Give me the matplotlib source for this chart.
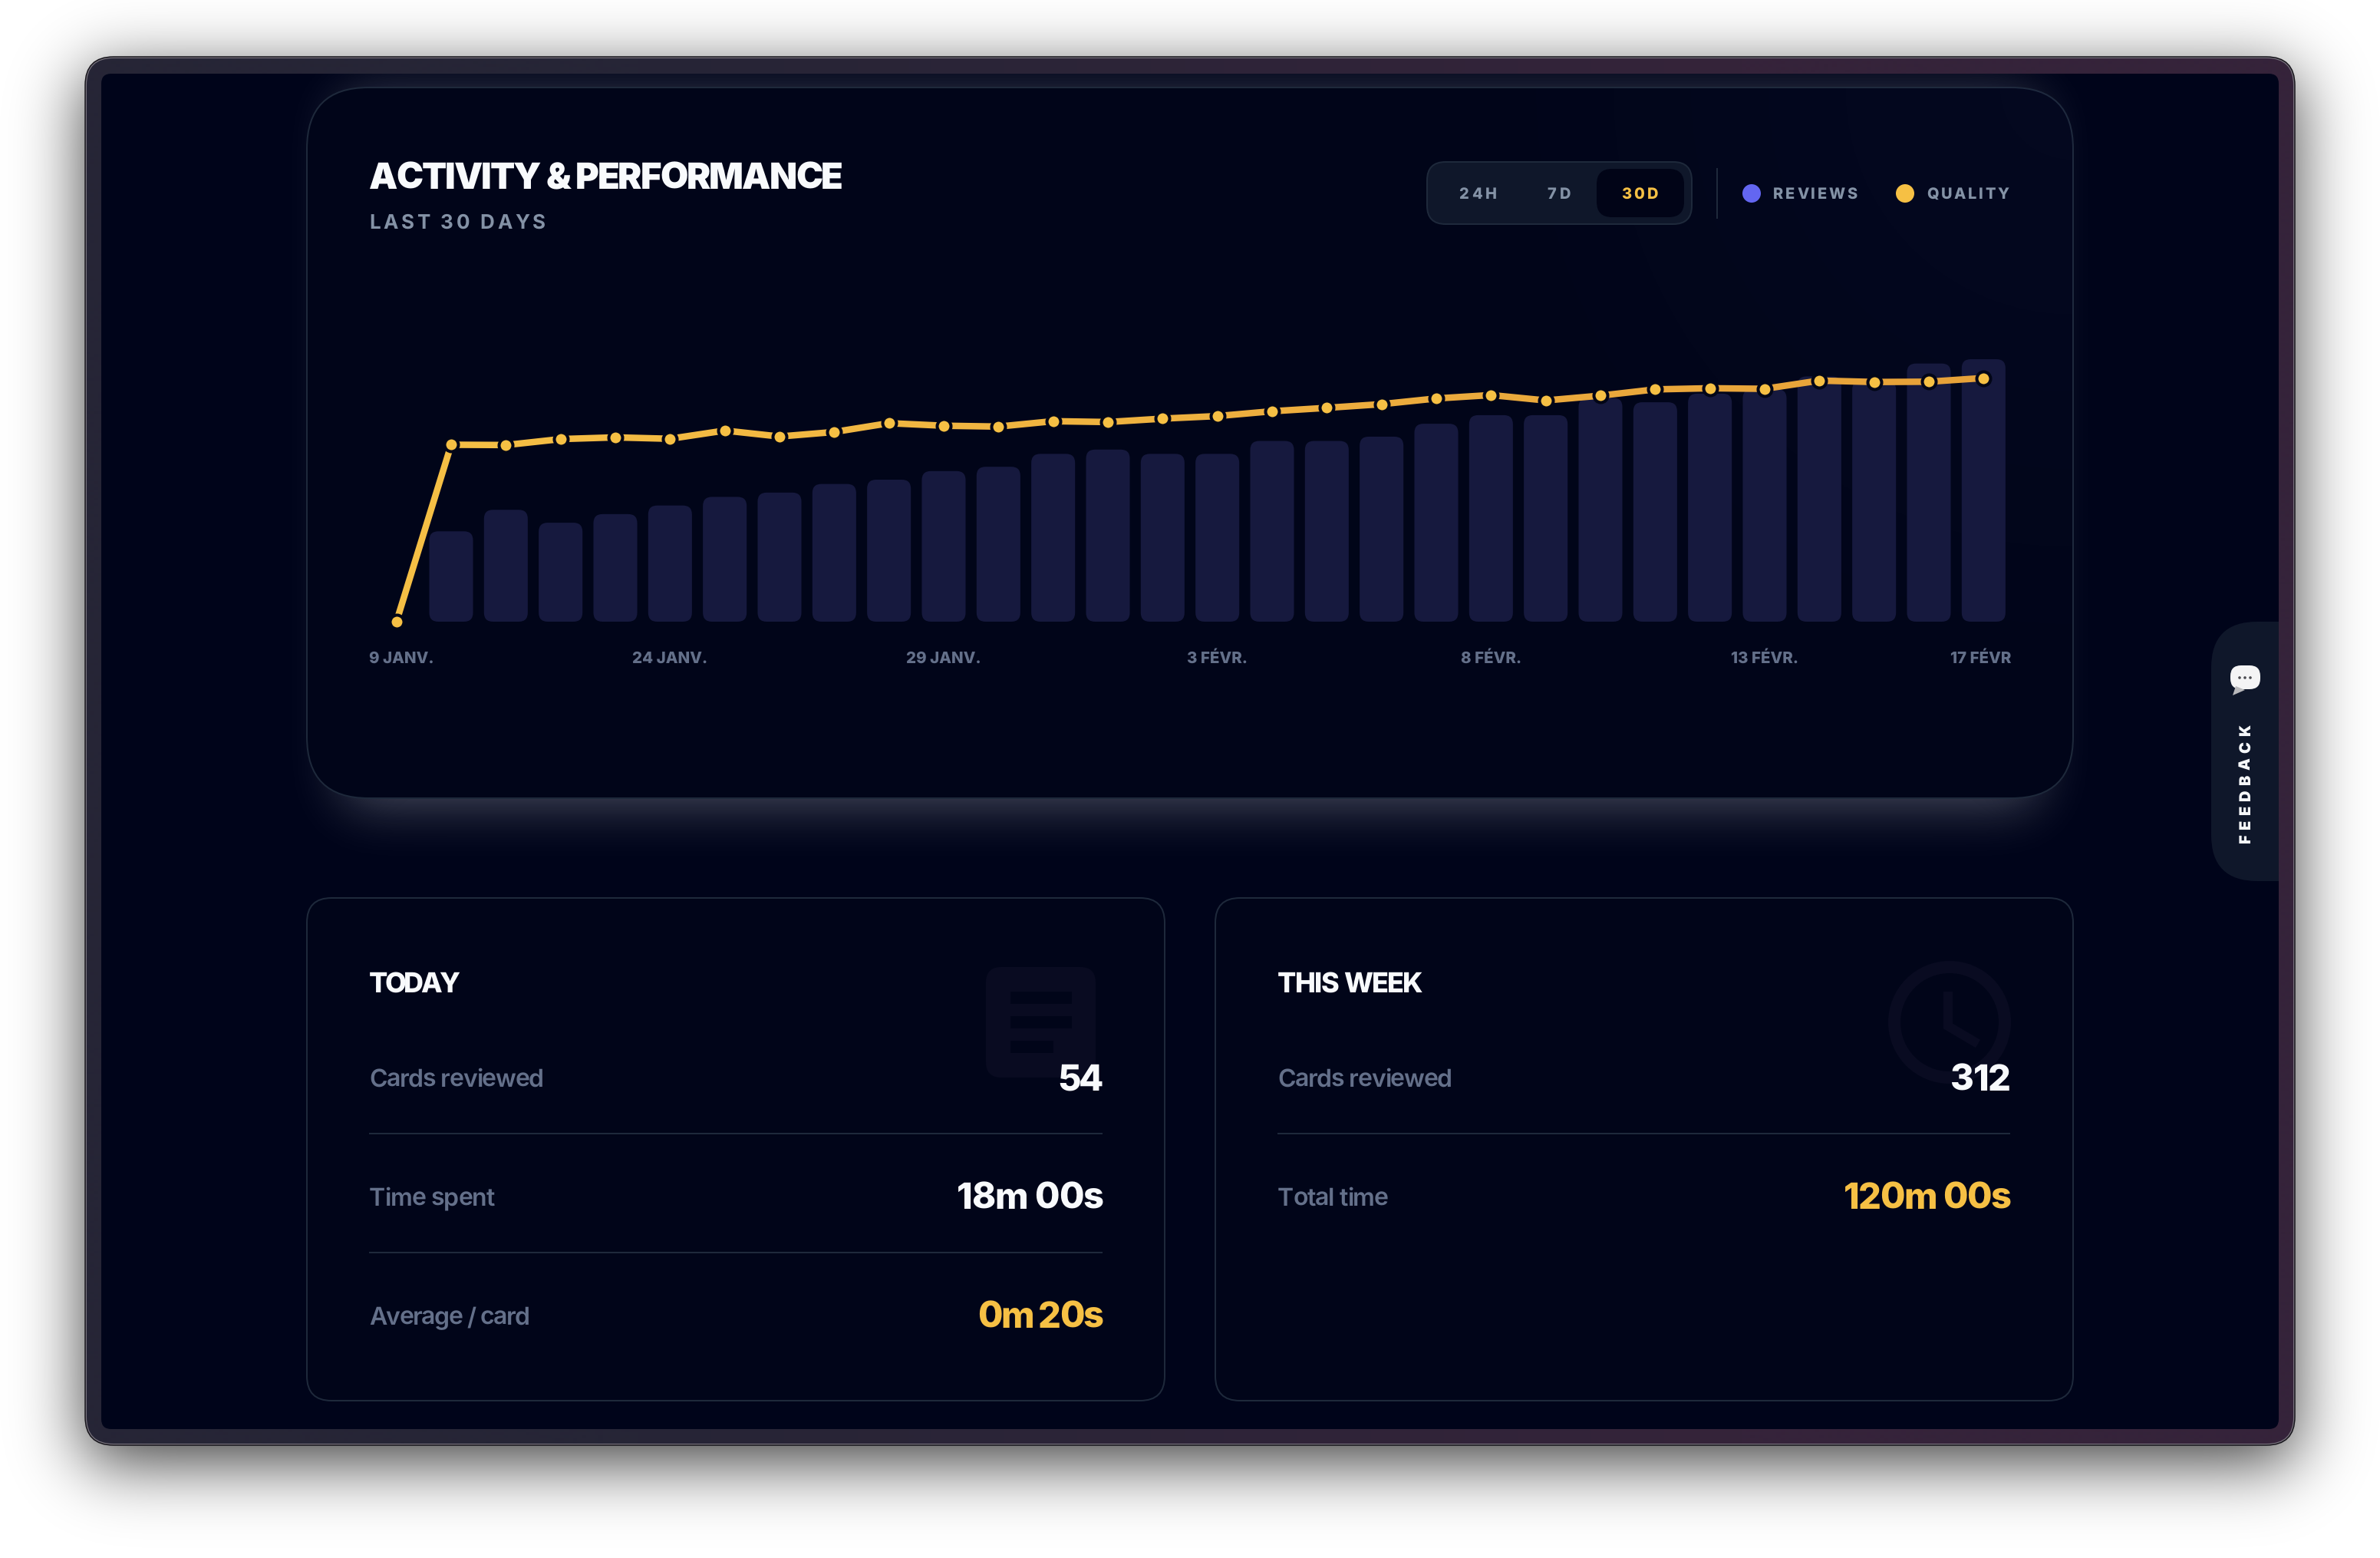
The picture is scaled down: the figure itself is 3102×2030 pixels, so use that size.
#!/usr/bin/env python3
"""Activity & performance dashboard card, redrawn with matplotlib."""

import math

import matplotlib
matplotlib.use("Agg")
import matplotlib.pyplot as plt
import numpy as np
from matplotlib.collections import LineCollection
from matplotlib.colors import to_rgb
from matplotlib.patches import Circle, FancyBboxPatch, Polygon, Rectangle
from matplotlib.text import Text
from matplotlib.transforms import Bbox, IdentityTransform, ScaledTranslation

# Daily data, one value per day of the 30 day window
reviews = [0, 21, 26, 23, 25, 27, 29, 30, 32, 33, 35, 36, 39, 40, 39,
           39, 42, 42, 43, 46, 48, 48, 52, 51, 53, 54, 57, 56, 60, 61]
quality = [0.0, 62.3, 62.2, 64.3, 64.9, 64.4, 67.3, 65.2, 66.8, 69.9,
           69.0, 68.7, 70.6, 70.3, 71.5, 72.4, 74.1, 75.3, 76.6, 78.6,
           79.8, 77.9, 79.6, 81.8, 82.2, 82.0, 84.9, 84.4, 84.5, 85.8]
tick_days = [0, 5, 10, 15, 20, 25, 29]
tick_labels = ["9 JANV.", "24 JANV.", "29 JANV.", "3 FÉVR.", "8 FÉVR.", "13 FÉVR.", "17 FÉVR."]
ranges = ["24H", "7D", "30D"]
today_rows = [("Cards reviewed", "54"), ("Time spent", "18m 00s"), ("Average / card", "0m 20s")]
week_rows = [("Cards reviewed", "312"), ("Total time", "120m 00s")]

W, H = 3102, 2030
PT = 0.72  # the figure is 100 dpi, so one pixel is 0.72 points

SCREEN = "#00041a"
CARD = "#010519"
BORDER = "#1e293b"
SLATE = "#8492a6"
MUTED = "#64708a"
AMBER = "#f6c044"
INDIGO = "#6366f1"
BAR = "#16193e"
GHOST = "#090b21"

plt.rcParams["font.family"] = ["Inter", "DejaVu Sans"]
plt.rcParams["text.hinting"] = "no_hinting"


class TrackedText(Text):
    """Text with letter spacing; fit_width sets the spacing to reach a width in pixels."""

    def __init__(self, x, y, text, fit_width=None, **kwargs):
        super().__init__(x, y, text, **kwargs)
        self.fit_width = fit_width

    def draw(self, renderer):
        full, pos, trans = self.get_text(), self.get_position(), self.get_transform()
        fp = self.get_fontproperties()

        def measure(s):
            return renderer.get_text_width_height_descent(s, fp, False)[0]

        natural = measure(full)
        spacing = 0
        if self.fit_width is not None and len(full) > 1:
            spacing = (self.fit_width - natural) / (len(full) - 1)
        total = natural + spacing * (len(full) - 1)
        start = {"left": 0, "center": -total / 2, "right": -total}[self.get_ha()]
        angle = math.radians(self.get_rotation())
        ux, uy = math.cos(angle), math.sin(angle)
        x0, y0 = trans.transform(pos)
        ha = self.get_ha()
        self.set_ha("left")
        self.set_transform(IdentityTransform())
        for i, ch in enumerate(full):
            if ch == " ":
                continue
            off = start + measure(full[:i + 1]) - measure(ch) + spacing * i
            self.set_text(ch)
            self.set_position((x0 + ux * off, y0 + uy * off))
            super().draw(renderer)
        self.set_text(full)
        self.set_position(pos)
        self.set_transform(trans)
        self.set_ha(ha)


def blurred_box(x0, x1, y0, y1, sigma):
    """Alpha of a gaussian blurred rectangle over the whole canvas."""
    erf = np.vectorize(math.erf)
    s = sigma * math.sqrt(2)
    xs = np.arange(W) + 0.5
    ys = np.arange(H) + 0.5
    ax_ = 0.5 * (erf((xs - x0) / s) - erf((xs - x1) / s))
    ay_ = 0.5 * (erf((ys - y0) / s) - erf((ys - y1) / s))
    return np.outer(ay_, ax_)


def overlay(ax, alpha, color, zorder, clip=None):
    rgba = np.zeros((H, W, 4))
    rgba[..., :3] = to_rgb(color)
    rgba[..., 3] = alpha
    im = ax.imshow(rgba, extent=(0, W, H, 0), aspect="auto", zorder=zorder, interpolation="nearest")
    if clip is not None:
        im.set_clip_path(clip)
    return im


def rounded(ax, x0, y0, x1, y1, r, fc, ec="none", lw=0, zorder=5):
    p = FancyBboxPatch((x0, y0), x1 - x0, y1 - y0, boxstyle=f"round,pad=0,rounding_size={r}",
                       fc=fc, ec=ec, lw=lw * PT, zorder=zorder)
    ax.add_patch(p)
    return p


def put(ax, x, y, s, size, color, weight="bold", ha="left", width=None, rotation=0):
    t = TrackedText(x, y, s, fit_width=width, fontsize=size * PT, color=color, fontweight=weight,
                    ha=ha, va="baseline", rotation=rotation, rotation_mode="anchor", zorder=20)
    ax.add_artist(t)
    return t


fig = plt.figure(figsize=(W / 100, H / 100), dpi=100, facecolor="white")

# --- page furniture, drawn in pixel coordinates ---
ui = fig.add_axes([0, 0, 1, 1], zorder=0)
ui.axis("off")

overlay(ui, 0.78 * blurred_box(112, 2990, 75 + 22, 1882 + 22, 44), "black", 1)

frame = rounded(ui, 112, 75, 2990, 1882, 36, "none", zorder=2)
frame_rgb = np.zeros((2, 2, 3))
frame_rgb[:, 0] = to_rgb("#262536")
frame_rgb[:, 1] = to_rgb("#35233a")
im = ui.imshow(frame_rgb, extent=(112, 2990, 1882, 75), aspect="auto", zorder=2, interpolation="bilinear")
im.set_clip_path(frame)
rounded(ui, 112, 75, 2990, 1882, 36, "none", ec="#77727c", lw=2, zorder=3)
rounded(ui, 111, 74, 2991, 1883, 37, "none", ec="#15131a", lw=1.5, zorder=3)
screen = rounded(ui, 132, 96, 2970, 1862, 13, SCREEN, zorder=4)

# light halo below the big card
overlay(ui, 0.33 * blurred_box(450, 2652, 130, 1046, 35), "#f1f5f9", 5, clip=screen)

chart_card = rounded(ui, 400, 114, 2702, 1040, 80, CARD, ec=BORDER, lw=2, zorder=6)
yy, xx = np.mgrid[0:H, 0:W]
corner_glow = 0.035 * np.clip(1 - np.hypot(xx - 2700, yy - 114) / 900, 0, 1)
overlay(ui, corner_glow, INDIGO, 7, clip=chart_card)

today_card = rounded(ui, 400, 1170, 1518, 1825, 32, CARD, ec=BORDER, lw=2, zorder=6)
week_card = rounded(ui, 1584, 1170, 2702, 1825, 32, CARD, ec=BORDER, lw=2, zorder=6)

# header
put(ui, 481, 246, "ACTIVITY & PERFORMANCE", 47, "#f8fafc", weight="black", width=618)
put(ui, 481, 298, "LAST 30 DAYS", 26, SLATE, weight="bold", width=230)

# range selector
rounded(ui, 1860, 211, 2205, 292, 24, "#0f172a", ec=BORDER, lw=2, zorder=8)
rounded(ui, 2081, 220, 2195, 283, 20, "#010417", zorder=9)
range_x = [1901, 2016, 2113]
range_w = [50, 31, 48]
for label, x, w in zip(ranges, range_x, range_w):
    put(ui, x, 259, label, 20, AMBER if label == "30D" else SLATE, weight="heavy", width=w)
ui.plot([2238, 2238], [220, 284], color=BORDER, lw=2 * PT, zorder=8)

# legend
ui.add_patch(Circle((2283, 252), 12, fc=INDIGO, zorder=8))
ui.add_patch(Circle((2483, 252), 12, fc=AMBER, zorder=8))
put(ui, 2311, 259, "REVIEWS", 20, SLATE, weight="heavy", width=110)
put(ui, 2511, 259, "QUALITY", 20, SLATE, weight="heavy", width=108)

# stat cards
row_label_y = [1416, 1571, 1726]
row_value_y = [1421, 1575, 1730]
value_w = {"54": 60, "18m 00s": 191, "0m 20s": 164, "312": 79, "120m 00s": 218}
label_w = {"Cards reviewed": 228, "Time spent": 164, "Average / card": 210, "Total time": 145}

for rows, x0, x1, heading, head_w in ((today_rows, 481, 1438, "TODAY", 118),
                                      (week_rows, 1665, 2621, "THIS WEEK", 190)):
    put(ui, x0, 1293, heading, 36, "#f8fafc", weight="heavy", width=head_w)
    for i, (label, value) in enumerate(rows):
        put(ui, x0, row_label_y[i], label, 32, MUTED, weight="semibold", width=label_w[label])
        amber = value in ("0m 20s", "120m 00s")
        put(ui, x1, row_value_y[i], value, 47, AMBER if amber else "#f8fafc", weight="heavy",
            ha="right", width=value_w[value])
        if i < len(rows) - 1:
            ui.plot([x0, x1 - 1], [row_label_y[i] + 61] * 2, color=BORDER, lw=2 * PT, zorder=8,
                    solid_capstyle="butt")

# faint card icons
rounded(ui, 1285, 1260, 1428, 1404, 20, GHOST, zorder=8)
for top, right in ((1292, 1397), (1324, 1397), (1356, 1373)):
    ui.add_patch(Rectangle((1317, top), right - 1317, 16, fc=CARD, zorder=9))
ui.add_patch(Circle((2541, 1332), 72, fc="none", ec=GHOST, lw=16 * PT, zorder=8))
ui.plot([2539, 2539, 2578], [1292, 1337, 1360], color=GHOST, lw=12 * PT, zorder=8,
        solid_capstyle="butt", solid_joinstyle="miter")

# feedback tab
tab = rounded(ui, 2882, 810, 3040, 1148, 60, "#0f172a", zorder=8)
tab.set_clip_path(screen)
put(ui, 2933, 1099, "FEEDBACK", 20, "#f8fafc", weight="black", width=155, rotation=90)
rounded(ui, 2907, 867, 2946, 898, 14, "#f4f4f5", zorder=10)
ui.add_patch(Polygon([(2914, 894), (2926, 899), (2910, 906)], fc="#b9b9bc", zorder=10))
for dx in (2919, 2926, 2933):
    ui.add_patch(Circle((dx, 883), 1.8, fc="#4b4b50", zorder=11))

ui.set_xlim(0, W)
ui.set_ylim(H, 0)

# --- the chart itself ---
left, right, top, bottom = 481, 2621, 440, 810
ax = fig.add_axes([left / W, 1 - bottom / H, (right - left) / W, (bottom - top) / H], zorder=1)
ax.patch.set_visible(False)
ax.set_xlim(-0.5, 29.5)
ax.set_ylim(0, 66)
for s in ax.spines.values():
    s.set_visible(False)
ax.set_yticks([])

days = np.arange(len(reviews))
aspect = (66 / (bottom - top)) / (30 / (right - left))
for rect in ax.bar(days, reviews, width=0.8, color=BAR):
    rect.set_visible(False)
    if rect.get_height() > 0:
        ax.add_patch(FancyBboxPatch(rect.get_xy(), rect.get_width(), rect.get_height(),
                                    boxstyle="round,pad=0,rounding_size=0.165",
                                    mutation_aspect=aspect, fc=BAR, ec="none"))

ax.tick_params(axis="x", length=0, pad=54 * PT)
ax.set_xticks(tick_days)
ax.set_xticklabels(tick_labels, fontsize=20.5 * PT, fontweight="heavy", color=MUTED)
clip_box = Bbox([[left, 0], [right, H]])
for lab in ax.get_xticklabels():
    lab.set_va("baseline")
    lab.set_clip_on(True)
    lab.set_clip_box(clip_box)
first = ax.get_xticklabels()[0]
first.set_ha("left")
first.set_transform(first.get_transform() + ScaledTranslation(-36 * PT / 72, 0, fig.dpi_scale_trans))

ax2 = ax.twinx()
ax2.set_zorder(2)
ax2.patch.set_visible(False)
ax2.set_ylim(0, 100)
ax2.set_yticks([])
for s in ax2.spines.values():
    s.set_visible(False)

points = np.column_stack([days, quality])
segments = np.stack([points[:-1], points[1:]], axis=1)
start_c, end_c = np.array(to_rgb("#f5bf45")), np.array(to_rgb("#e7a239"))
seg_t = np.linspace(0, 1, len(segments))[:, None]
ax2.add_collection(LineCollection(segments, colors=start_c + (end_c - start_c) * seg_t,
                                  linewidths=8.5 * PT, capstyle="butt", zorder=3))
ax2.plot(days, quality, ls="none", marker="o", ms=18 * PT, mfc=AMBER, mec="#020617",
         mew=4 * PT, zorder=4, clip_on=False)

fig.savefig("out.png", dpi=100)
